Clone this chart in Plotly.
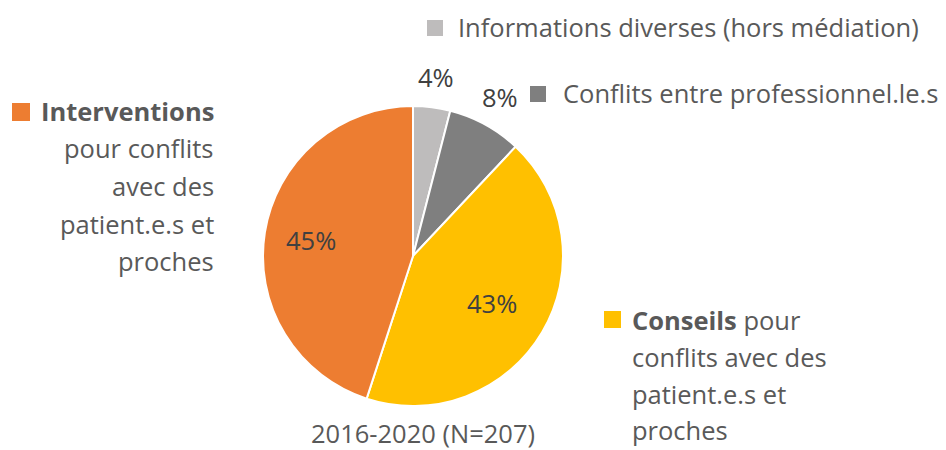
import math
import plotly.graph_objects as go

categories = ["Informations diverses (hors médiation)", "Conflits entre professionnel.le.s",
              "Conseils pour conflits avec des patient.e.s et proches",
              "Interventions pour conflits avec des patient.e.s et proches"]
values = [4, 8, 43, 45]
colors = ["#BEBCBC", "#7F7F7F", "#FFC000", "#ED7D31"]
label_radius = [1.2, 1.21, 0.61, 0.69]   # relative to pie radius
subtitle = "2016-2020 (N=207)"

FONT = "Open Sans"
TXT = "#595959"
FS = 25.5
W, H = 946, 450
CX, CY, R = 413, 256, 150

fig = go.Figure(go.Pie(
    labels=categories, values=values, sort=False, direction="clockwise", rotation=0,
    marker=dict(colors=colors, line=dict(color="white", width=2)),
    textinfo="none",
    domain=dict(x=[(CX - R) / W, (CX + R) / W], y=[1 - (CY + R + 1) / H, 1 - (CY - R - 1) / H]),
    hoverinfo="label+percent", showlegend=False,
))

def px(x):
    return x / W

def py(y):
    return 1 - y / H

ann = []
def add(text, x, y, anchor="left", size=FS, color=TXT):
    ann.append(dict(text=text, x=px(x), y=py(y), xref="paper", yref="paper",
                    xanchor=anchor, yanchor="middle", showarrow=False,
                    font=dict(family=FONT, size=size, color=color)))

# percentage labels placed at the middle angle of each slice
total = sum(values)
cum = 0
for v, rf in zip(values, label_radius):
    mid = (cum + v / 2) / total * 2 * math.pi
    cum += v
    x = CX + math.sin(mid) * R * rf
    y = CY - math.cos(mid) * R * rf
    add(f"{v}%", x, y, anchor="center", color="#404040")

# left block (Interventions)
left_lines = ["<b>Interventions</b>", "pour conflits", "avec des", "patient.e.s et", "proches"]
for t, y in zip(left_lines, [111, 148, 186, 224, 261]):
    add(t, 216, y, anchor="right")

# top right
add(categories[0], 456, 27)
add(categories[1], 561, 93)

# Conseils block
right_lines = ["<b>Conseils</b> pour", "conflits avec des", "patient.e.s et", "proches"]
for t, y in zip(right_lines, [320, 357, 394, 430]):
    add(t, 630, y)

add(subtitle, 423, 433, anchor="center")

shapes = []
def square(x0, y0, s, c):
    shapes.append(dict(type="rect", xref="paper", yref="paper",
                       x0=px(x0), x1=px(x0 + s), y0=py(y0 + s), y1=py(y0),
                       fillcolor=c, line=dict(width=0)))

square(12, 103, 18, colors[3])
square(427, 20, 16, colors[0])
square(530, 86, 16, colors[1])
square(604, 311, 17, colors[2])

fig.update_layout(width=W, height=H, margin=dict(l=0, r=0, t=0, b=0),
                  paper_bgcolor="white", plot_bgcolor="white",
                  annotations=ann, shapes=shapes)

fig.write_html("out.html", config={"displayModeBar": False},
               post_script="document.body.style.margin='0';")
